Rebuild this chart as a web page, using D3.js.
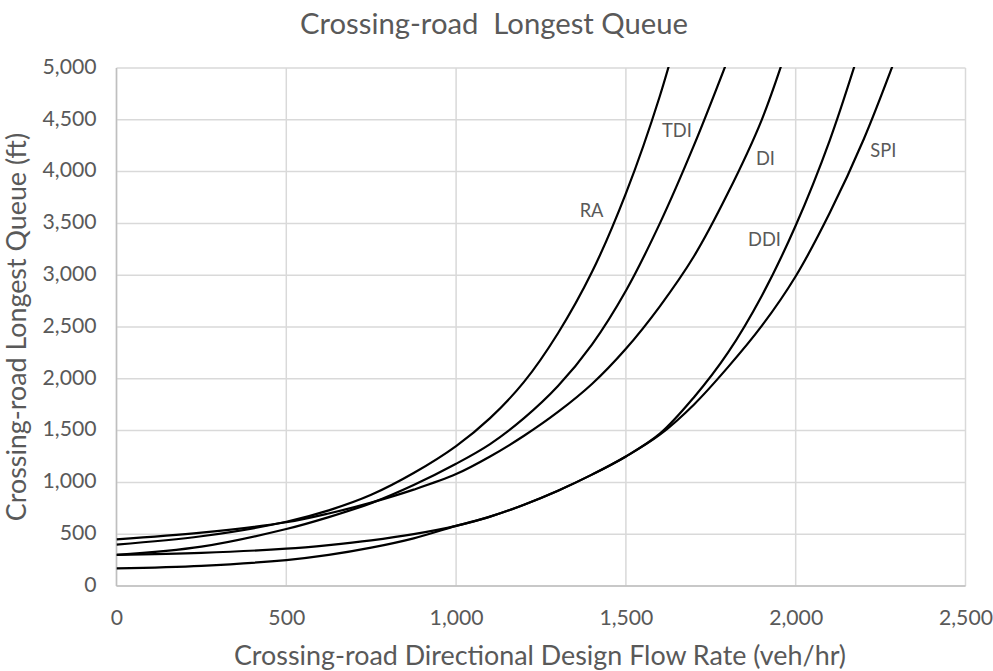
<!DOCTYPE html>
<html><head><meta charset="utf-8">
<script src="https://cdn.jsdelivr.net/npm/d3@7"></script>
<style>
body{margin:0;background:#fff}
text{font-family:Lato, "Open Sans", sans-serif; fill:#595959}
</style>
</head><body>
<svg id="chart" width="993" height="671"></svg>
<script>
// ---- data ----
const flowRates = [0,250,500,625,750,875,1000,1100,1200,1300,1400,1500,1600,1700,1800,1900,2000,2100,2200,2300];
const raQueue  = [400,480,620,730,880,1090,1350,1620,1970,2440,3030,3790,4730,5900,null,null,null,null,null,null];
const tdiQueue = [300,380,550,665,800,975,1180,1370,1620,1930,2330,2850,3500,4250,5080,null,null,null,null,null];
const diQueue  = [450,515,615,700,805,930,1080,1250,1450,1680,1950,2290,2700,3180,3790,4500,5450,null,null,null];
const ddiQueue = [170,195,250,300,370,460,580,670,785,920,1075,1250,1470,1820,2250,2800,3480,4300,5300,null];
const spiQueue = [300,320,360,395,440,500,580,670,785,920,1075,1250,1460,1750,2110,2510,2990,3600,4310,5150];
const seriesNames = ["RA","TDI","DI","DDI","SPI"];
const seriesValues = [raQueue, tdiQueue, diQueue, ddiQueue, spiQueue];
// label anchor points in data units (flow, queue)
const labelFlow  = [1399,1650,1911,1908,2258];
const labelQueue = [3610,4382,4112,3330,4185];
const xTickValues = [0,500,1000,1500,2000,2500];
const yTickValues = [0,500,1000,1500,2000,2500,3000,3500,4000,4500,5000];
const titleText = "Crossing-road  Longest Queue";
const xTitle = "Crossing-road Directional Design Flow Rate (veh/hr)";
const yTitle = "Crossing-road Longest Queue (ft)";

// ---- layout ----
const svg = d3.select("#chart");
const L = 116.5, R = 965.5, T = 68, B = 586;
const x = d3.scaleLinear().domain([0,2500]).range([L,R]);
const y = d3.scaleLinear().domain([0,5000]).range([B,T]);

function fitSize(sel, target){
  sel.style("font-size","20px");
  const w = sel.node().getComputedTextLength();
  const fs = 20*target/w;
  sel.style("font-size", fs.toFixed(2)+"px");
  return fs;
}

// gridlines
svg.append("g").selectAll("line").data(yTickValues).join("line")
  .attr("x1",L).attr("x2",R).attr("y1",d=>y(d)).attr("y2",d=>y(d))
  .attr("stroke","#d9d9d9").attr("stroke-width",1.5);
svg.append("g").selectAll("line").data(xTickValues).join("line")
  .attr("y1",T).attr("y2",B).attr("x1",d=>x(d)).attr("x2",d=>x(d))
  .attr("stroke","#d9d9d9").attr("stroke-width",1.5);
// axis lines
svg.append("line").attr("x1",L).attr("x2",L).attr("y1",T).attr("y2",B)
  .attr("stroke","#bfbfbf").attr("stroke-width",1.5);
svg.append("line").attr("x1",L).attr("x2",R).attr("y1",B).attr("y2",B)
  .attr("stroke","#bfbfbf").attr("stroke-width",1.5);

// tick labels via d3 axes
const fmt = d3.format(",");
const yAxis = svg.append("g").attr("transform",`translate(${L},0)`)
  .call(d3.axisLeft(y).tickValues(yTickValues).tickFormat(fmt).tickSize(0).tickPadding(20));
const xAxis = svg.append("g").attr("transform",`translate(0,${B})`)
  .call(d3.axisBottom(x).tickValues(xTickValues).tickFormat(fmt).tickSize(0).tickPadding(22));
[yAxis,xAxis].forEach(a=>{a.select(".domain").remove(); a.selectAll("text").attr("font-family",null).attr("font-size",null);});

const probe = svg.append("text").text("2,500");
const tickFs = fitSize(probe,54);
probe.remove();
svg.selectAll(".tick text").style("font-size",tickFs+"px").style("fill","#595959");
xAxis.selectAll("text").attr("dy",null).attr("y",34).attr("dominant-baseline","middle");
yAxis.selectAll("text").attr("x",-20).attr("dy",null).attr("dominant-baseline","middle");

// clip
svg.append("clipPath").attr("id","clip").append("rect")
  .attr("x",L).attr("y",T-1).attr("width",R-L).attr("height",B-T+1);

const line = d3.line()
  .defined(d=>d[1]!=null)
  .x(d=>x(d[0])).y(d=>y(d[1]))
  .curve(d3.curveCatmullRom.alpha(0.5));

svg.append("g").attr("clip-path","url(#clip)")
  .selectAll("path").data(seriesValues).join("path")
  .attr("d",vals=>line(flowRates.map((f,i)=>[f,vals[i]])))
  .attr("fill","none").attr("stroke","#000").attr("stroke-width",2.2);

// curve labels
const lab = svg.append("g").selectAll("text").data(seriesNames).join("text")
  .attr("x",(d,i)=>x(labelFlow[i])).attr("y",(d,i)=>y(labelQueue[i]))
  .attr("text-anchor","middle").attr("dominant-baseline","middle")
  .text(d=>d);
const lp = svg.append("text").text("DDI"); const labFs = fitSize(lp,33); lp.remove();
lab.style("font-size",labFs+"px");

// titles
const t = svg.append("text").attr("x",494).attr("y",27).attr("text-anchor","middle")
  .attr("dominant-baseline","middle").style("white-space","pre").text(titleText);
fitSize(t,388);
const xt = svg.append("text").attr("x",540).attr("y",658).attr("text-anchor","middle")
  .attr("dominant-baseline","middle").text(xTitle);
const axFs = fitSize(xt,612);
const yt = svg.append("text").attr("transform","translate(19,327) rotate(-90)")
  .attr("text-anchor","middle").attr("dominant-baseline","middle").text(yTitle)
  .style("font-size",axFs+"px");
</script>
</body></html>
